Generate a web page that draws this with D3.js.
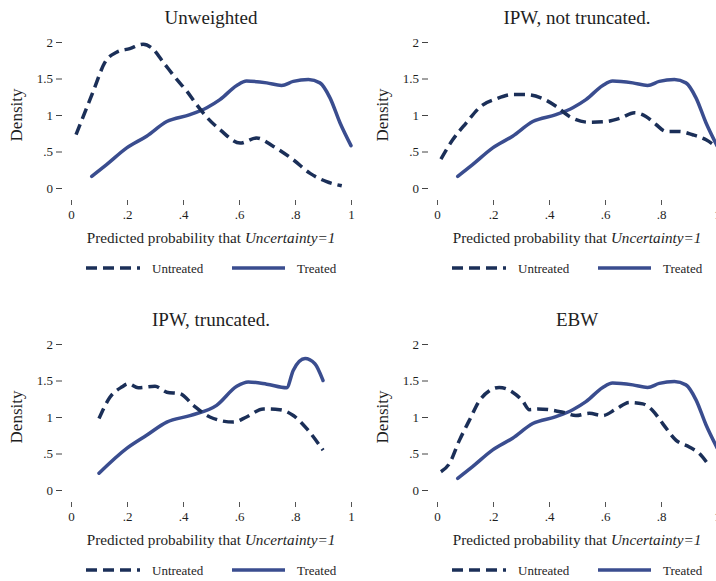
<!DOCTYPE html>
<html>
<head>
<meta charset="utf-8">
<script src="https://cdn.jsdelivr.net/npm/d3@7"></script>
<style>
  html, body { margin: 0; padding: 0; background: #fff; }
  svg { display: block; }
  text { font-family: "Liberation Serif", "DejaVu Serif", serif; fill: #1e1e1e; }
</style>
</head>
<body>
<svg id="chart" width="716" height="581"></svg>
<script>
// Kernel density estimates of the predicted probability, by treatment group.
// Each series is a list of [probability, density] pairs.

const panelTitles = ["Unweighted", "IPW, not truncated.", "IPW, truncated.", "EBW"];
const xTickValues = [0, 0.2, 0.4, 0.6, 0.8, 1];
const xTickLabels = ["0", ".2", ".4", ".6", ".8", "1"];
const yTickValues = [0, 0.5, 1, 1.5, 2];
const yTickLabels = ["0", ".5", "1", "1.5", "2"];
const legendLabels = ["Untreated", "Treated"];

// Treated density (same in the unweighted, non-truncated IPW and EBW panels)
const treatedDensity = [
  [0.074, 0.16], [0.127, 0.32], [0.199, 0.55], [0.27, 0.71], [0.342, 0.91],
  [0.425, 1.005], [0.485, 1.10], [0.532, 1.21], [0.592, 1.405], [0.627, 1.465],
  [0.699, 1.44], [0.752, 1.405], [0.794, 1.46], [0.848, 1.485], [0.889, 1.44],
  [0.925, 1.235], [0.961, 0.89], [1.0, 0.58]
];

// Treated density with truncated weights
const treatedTruncated = [
  [0.10, 0.23], [0.199, 0.57], [0.27, 0.75], [0.342, 0.93], [0.425, 1.02],
  [0.52, 1.16], [0.592, 1.42], [0.633, 1.48], [0.699, 1.45], [0.77, 1.40],
  [0.794, 1.64], [0.836, 1.80], [0.871, 1.73], [0.90, 1.50]
];

const untreatedUnweighted = [
  [0.018, 0.73], [0.08, 1.33], [0.121, 1.72], [0.163, 1.86], [0.21, 1.91],
  [0.258, 1.97], [0.288, 1.92], [0.33, 1.72], [0.377, 1.49], [0.413, 1.33],
  [0.449, 1.14], [0.485, 0.97], [0.532, 0.80], [0.604, 0.615], [0.663, 0.685],
  [0.723, 0.57], [0.794, 0.386], [0.854, 0.20], [0.913, 0.087], [0.967, 0.03]
];

const untreatedIpw = [
  [0.014, 0.395], [0.056, 0.66], [0.104, 0.89], [0.157, 1.12], [0.211, 1.22],
  [0.27, 1.28], [0.318, 1.28], [0.371, 1.235], [0.425, 1.12], [0.473, 0.98],
  [0.544, 0.90], [0.604, 0.91], [0.657, 0.96], [0.705, 1.03], [0.746, 0.98],
  [0.782, 0.87], [0.818, 0.775], [0.865, 0.775], [0.913, 0.73], [0.961, 0.66],
  [0.996, 0.57]
];

const untreatedIpwTruncated = [
  [0.10, 0.98], [0.139, 1.27], [0.181, 1.41], [0.205, 1.455], [0.24, 1.40],
  [0.30, 1.42], [0.342, 1.34], [0.389, 1.32], [0.437, 1.16], [0.496, 1.0],
  [0.58, 0.93], [0.627, 1.0], [0.687, 1.11], [0.746, 1.10], [0.794, 1.02],
  [0.842, 0.84], [0.90, 0.546]
];

const untreatedEbw = [
  [0.014, 0.25], [0.044, 0.36], [0.08, 0.68], [0.115, 0.95], [0.151, 1.22],
  [0.187, 1.36], [0.222, 1.405], [0.27, 1.34], [0.306, 1.22], [0.33, 1.10],
  [0.36, 1.11], [0.401, 1.10], [0.449, 1.065], [0.496, 1.02], [0.544, 1.05],
  [0.592, 1.02], [0.64, 1.11], [0.687, 1.20], [0.735, 1.18], [0.77, 1.09],
  [0.806, 0.91], [0.854, 0.68], [0.901, 0.59], [0.937, 0.50], [0.967, 0.36]
];

const panelUntreated = [untreatedUnweighted, untreatedIpw, untreatedIpwTruncated, untreatedEbw];
const panelTreated = [treatedDensity, treatedDensity, treatedTruncated, treatedDensity];

const untreatedColor = "#1b2f58";
const treatedColor = "#3a4d8f";

const svg = d3.select("#chart");

// Plot area geometry of each panel (left edge, zero line)
const panelOrigins = [
  { x: 71, y: 188 }, { x: 437, y: 188 },
  { x: 71, y: 490 }, { x: 437, y: 490 }
];
const plotW = 280, plotH = 146;

panelTitles.forEach((title, i) => {
  const o = panelOrigins[i];
  const g = svg.append("g").attr("transform", `translate(${o.x},${o.y - plotH})`);

  const x = d3.scaleLinear().domain([0, 1]).range([0, plotW]);
  const y = d3.scaleLinear().domain([0, 2]).range([plotH, 0]);

  // Title
  g.append("text")
    .attr("x", plotW / 2).attr("y", -18)
    .attr("text-anchor", "middle")
    .style("font-size", "19px")
    .text(title);

  // Y axis: tick labels followed by short tick marks, no axis line
  const yAxis = d3.axisLeft(y)
    .tickValues(yTickValues)
    .tickFormat((d, k) => yTickLabels[k])
    .tickSize(6).tickPadding(3);
  const ya = g.append("g").attr("transform", "translate(-9,0)").call(yAxis);
  ya.select(".domain").remove();
  ya.selectAll(".tick line").attr("stroke", "#444").attr("stroke-width", 1);
  ya.selectAll(".tick text")
    .style("font-family", "'Liberation Serif', serif")
    .style("font-size", "13px").attr("fill", "#1e1e1e");

  // X axis: light tick marks below the plot
  const xAxis = d3.axisBottom(x)
    .tickValues(xTickValues)
    .tickFormat((d, k) => xTickLabels[k])
    .tickSize(5).tickPadding(5);
  const xa = g.append("g").attr("transform", `translate(0,${plotH + 12})`).call(xAxis);
  xa.select(".domain").remove();
  xa.selectAll(".tick line").attr("stroke", "#555").attr("stroke-width", 1);
  xa.selectAll(".tick text")
    .style("font-family", "'Liberation Serif', serif")
    .style("font-size", "13px").attr("fill", "#1e1e1e");

  // Axis titles
  const xt = g.append("text")
    .attr("x", plotW / 2).attr("y", plotH + 55)
    .attr("text-anchor", "middle")
    .style("font-size", "15.2px");
  xt.append("tspan").text("Predicted probability that ");
  xt.append("tspan").style("font-style", "italic").text("Uncertainty=1");

  g.append("text")
    .attr("transform", `translate(-49,${plotH / 2}) rotate(-90)`)
    .attr("text-anchor", "middle")
    .style("font-size", "17px")
    .text("Density");

  // Density curves
  const line = d3.line()
    .x(d => x(d[0]))
    .y(d => y(d[1]))
    .curve(d3.curveMonotoneX);

  g.append("path")
    .datum(panelTreated[i])
    .attr("d", line)
    .attr("fill", "none")
    .attr("stroke", treatedColor)
    .attr("stroke-width", 3.5)
    .attr("stroke-linecap", "round")
    .attr("stroke-linejoin", "round");

  g.append("path")
    .datum(panelUntreated[i])
    .attr("d", line)
    .attr("fill", "none")
    .attr("stroke", untreatedColor)
    .attr("stroke-width", 3.5)
    .attr("stroke-dasharray", "11,6");

  // Legend
  const lg = g.append("g").attr("transform", `translate(0,${plotH + 80})`);
  lg.append("line")
    .attr("x1", 15).attr("x2", 69).attr("y1", 0).attr("y2", 0)
    .attr("stroke", untreatedColor).attr("stroke-width", 3.4)
    .attr("stroke-dasharray", "11,6");
  lg.append("text")
    .attr("x", 81).attr("y", 4.5)
    .style("font-size", "13px")
    .text(legendLabels[0]);
  lg.append("line")
    .attr("x1", 161).attr("x2", 214).attr("y1", 0).attr("y2", 0)
    .attr("stroke", treatedColor).attr("stroke-width", 3.4);
  lg.append("text")
    .attr("x", 226).attr("y", 4.5)
    .style("font-size", "13px")
    .text(legendLabels[1]);
});
</script>
</body>
</html>
